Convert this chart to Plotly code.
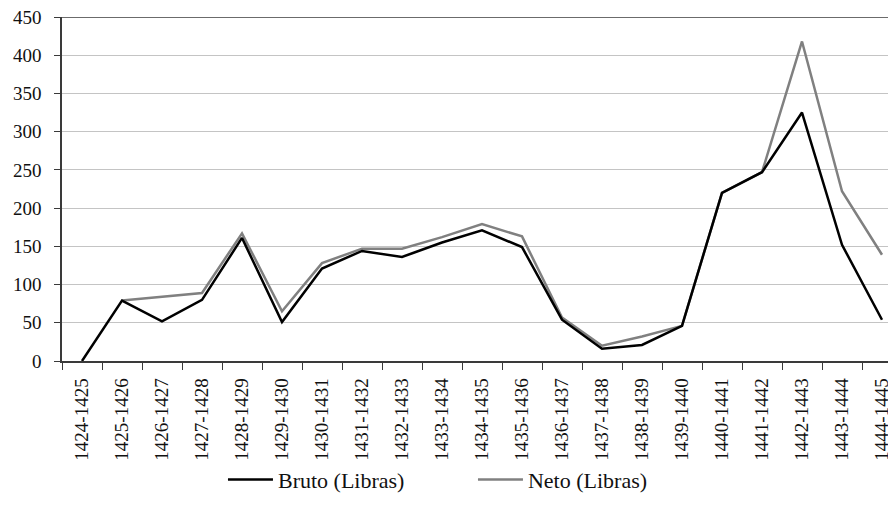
import plotly.graph_objects as go

# Campañas fiscales (categorías del eje X)
periodos = [
    "1424-1425", "1425-1426", "1426-1427", "1427-1428", "1428-1429",
    "1429-1430", "1430-1431", "1431-1432", "1432-1433", "1433-1434",
    "1434-1435", "1435-1436", "1436-1437", "1437-1438", "1438-1439",
    "1439-1440", "1440-1441", "1441-1442", "1442-1443", "1443-1444",
    "1444-1445",
]

# Valores (libras)
bruto = [0, 79, 52, 80, 161, 51, 121, 144, 136, 155, 171, 149,
         54, 16, 21, 46, 220, 247, 325, 152, 54]
neto = [None, 79, 84, 89, 167, 65, 128, 147, 147, 162, 179, 163,
        57, 20, 32, 46, 220, 247, 418, 222, 139]

y_ticks = list(range(0, 451, 50))

FONT = "Times New Roman, Liberation Serif, serif"
AXIS_COLOR = "#3a3a3a"

fig = go.Figure()

fig.add_trace(go.Scatter(
    x=periodos, y=neto, name="Neto (Libras)", mode="lines",
    line=dict(color="#808080", width=2.5),
))
fig.add_trace(go.Scatter(
    x=periodos, y=bruto, name="Bruto (Libras)", mode="lines",
    line=dict(color="#000000", width=2.5),
))

# la página añade ~8 px de margen al body: se compensa aquí
fig.update_layout(
    width=888, height=510,
    margin=dict(l=54, r=0, t=9, b=157),
    paper_bgcolor="white", plot_bgcolor="white",
    font=dict(family=FONT, size=16, color="#111111"),
    showlegend=True,
    legend=dict(
        orientation="h", traceorder="reversed",
        x=0.193, xanchor="left", y=-0.345, yanchor="middle",
        font=dict(family=FONT, size=22), itemwidth=45, entrywidth=190,
    ),
    xaxis=dict(
        type="category",
        range=[-0.5, 20.35],
        automargin=False,
        tickangle=-90,
        ticks="outside", ticklen=7, tickcolor=AXIS_COLOR,
        tickson="boundaries",
        ticklabelstandoff=8,
        ticklabeloverflow="allow",
        showgrid=False,
        showline=True, linecolor=AXIS_COLOR, linewidth=1.5,
        tickfont=dict(family=FONT, size=19),
    ),
    yaxis=dict(
        range=[0, 450],
        automargin=False,
        tickvals=y_ticks,
        ticks="outside", ticklen=6, tickcolor=AXIS_COLOR,
        ticklabelstandoff=9,
        ticklabeloverflow="allow",
        showgrid=True, gridcolor="#c4c4c4", gridwidth=1.2,
        showline=True, linecolor=AXIS_COLOR, linewidth=1.5,
        zeroline=False,
        tickfont=dict(family=FONT, size=19),
    ),
)

# Línea superior del marco
fig.add_shape(type="line", xref="paper", yref="y", x0=0, x1=1, y0=450, y1=450,
              line=dict(color=AXIS_COLOR, width=1.5))

fig.write_html("out.html")
